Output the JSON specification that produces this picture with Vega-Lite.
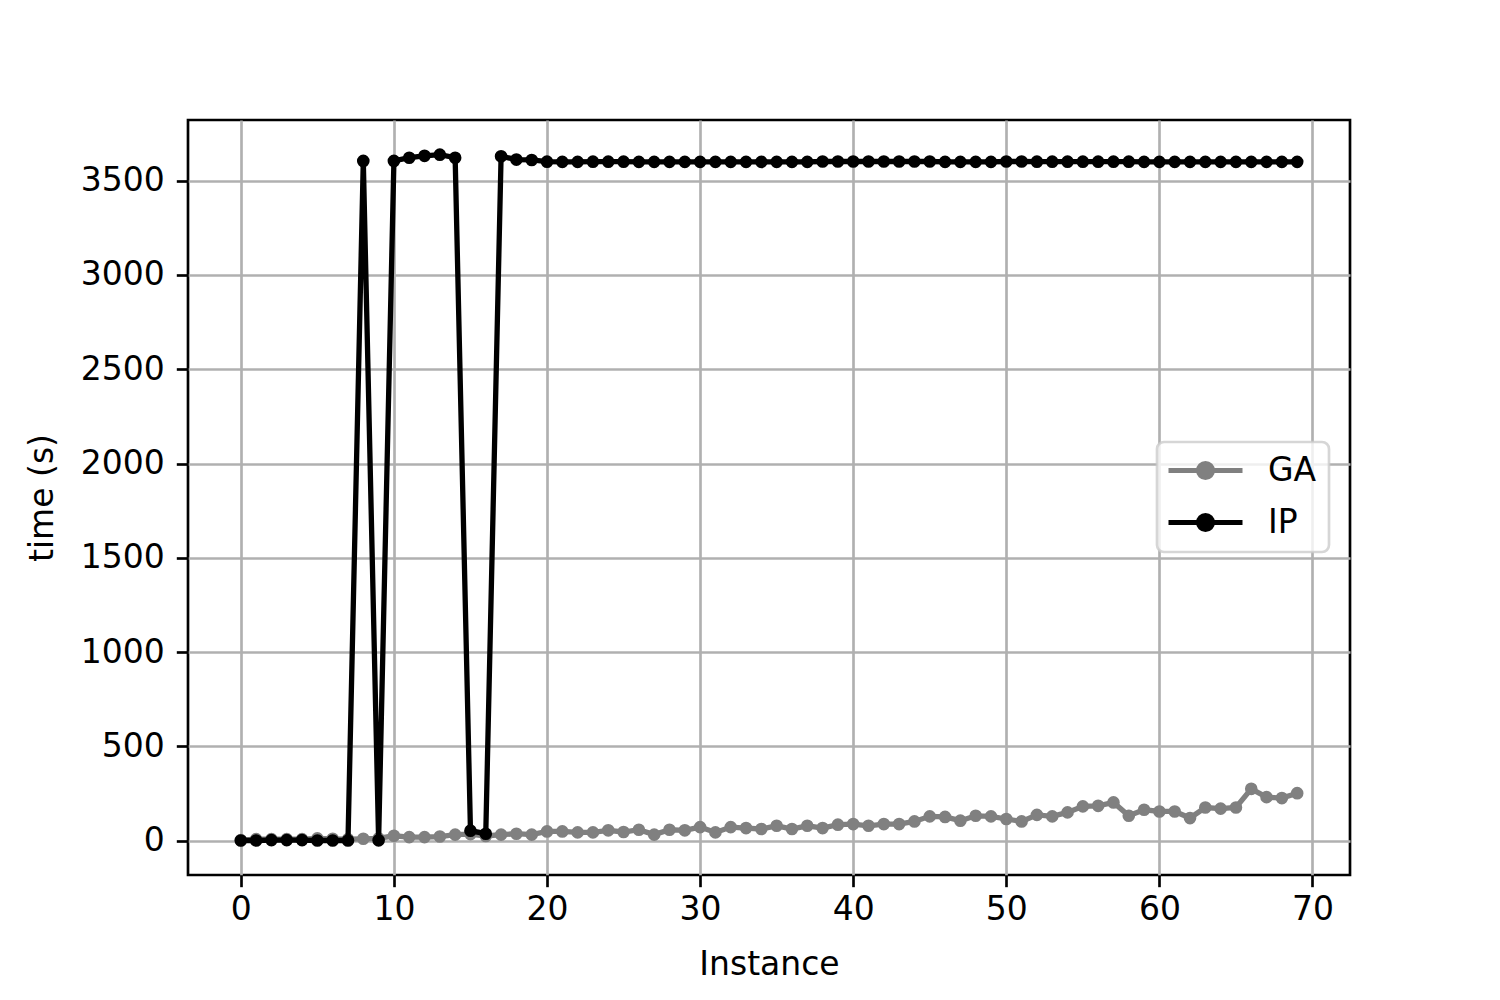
{
  "$schema": "https://vega.github.io/schema/vega-lite/v6.json",
  "width": 1162,
  "height": 755,
  "autosize": "none",
  "padding": {"left": 188, "top": 120, "right": 150, "bottom": 125},
  "background": "white",
  "config": {
    "font": "DejaVu Sans",
    "view": {"stroke": "black", "strokeWidth": 2.67},
    "axis": {
      "labelFont": "DejaVu Sans", "titleFont": "DejaVu Sans",
      "labelFontSize": 33, "titleFontSize": 33, "titleFontWeight": "normal",
      "labelColor": "black", "titleColor": "black",
      "gridColor": "#b0b0b0", "gridWidth": 2.67, "gridOpacity": 1,
      "tickColor": "black", "tickWidth": 2.67, "tickSize": 11.7,
      "domain": false, "format": "d"
    }
  },
  "datasets": {
    "d": [
      {"series": "GA", "instance": 0, "time": 3},
      {"series": "GA", "instance": 1, "time": 8},
      {"series": "GA", "instance": 2, "time": 8},
      {"series": "GA", "instance": 3, "time": 8},
      {"series": "GA", "instance": 4, "time": 8},
      {"series": "GA", "instance": 5, "time": 12},
      {"series": "GA", "instance": 6, "time": 10},
      {"series": "GA", "instance": 7, "time": 8},
      {"series": "GA", "instance": 8, "time": 10},
      {"series": "GA", "instance": 9, "time": 12},
      {"series": "GA", "instance": 10, "time": 26},
      {"series": "GA", "instance": 11, "time": 19},
      {"series": "GA", "instance": 12, "time": 19},
      {"series": "GA", "instance": 13, "time": 22},
      {"series": "GA", "instance": 14, "time": 32},
      {"series": "GA", "instance": 15, "time": 35},
      {"series": "GA", "instance": 16, "time": 25},
      {"series": "GA", "instance": 17, "time": 32},
      {"series": "GA", "instance": 18, "time": 37},
      {"series": "GA", "instance": 19, "time": 32},
      {"series": "GA", "instance": 20, "time": 49},
      {"series": "GA", "instance": 21, "time": 49},
      {"series": "GA", "instance": 22, "time": 44},
      {"series": "GA", "instance": 23, "time": 44},
      {"series": "GA", "instance": 24, "time": 55},
      {"series": "GA", "instance": 25, "time": 46},
      {"series": "GA", "instance": 26, "time": 58},
      {"series": "GA", "instance": 27, "time": 32},
      {"series": "GA", "instance": 28, "time": 58},
      {"series": "GA", "instance": 29, "time": 55},
      {"series": "GA", "instance": 30, "time": 72},
      {"series": "GA", "instance": 31, "time": 44},
      {"series": "GA", "instance": 32, "time": 72},
      {"series": "GA", "instance": 33, "time": 67},
      {"series": "GA", "instance": 34, "time": 62},
      {"series": "GA", "instance": 35, "time": 79},
      {"series": "GA", "instance": 36, "time": 62},
      {"series": "GA", "instance": 37, "time": 79},
      {"series": "GA", "instance": 38, "time": 67},
      {"series": "GA", "instance": 39, "time": 85},
      {"series": "GA", "instance": 40, "time": 88},
      {"series": "GA", "instance": 41, "time": 79},
      {"series": "GA", "instance": 42, "time": 88},
      {"series": "GA", "instance": 43, "time": 88},
      {"series": "GA", "instance": 44, "time": 102},
      {"series": "GA", "instance": 45, "time": 129},
      {"series": "GA", "instance": 46, "time": 126},
      {"series": "GA", "instance": 47, "time": 106},
      {"series": "GA", "instance": 48, "time": 132},
      {"series": "GA", "instance": 49, "time": 129},
      {"series": "GA", "instance": 50, "time": 115},
      {"series": "GA", "instance": 51, "time": 102},
      {"series": "GA", "instance": 52, "time": 137},
      {"series": "GA", "instance": 53, "time": 129},
      {"series": "GA", "instance": 54, "time": 150},
      {"series": "GA", "instance": 55, "time": 182},
      {"series": "GA", "instance": 56, "time": 185},
      {"series": "GA", "instance": 57, "time": 203},
      {"series": "GA", "instance": 58, "time": 132},
      {"series": "GA", "instance": 59, "time": 164},
      {"series": "GA", "instance": 60, "time": 155},
      {"series": "GA", "instance": 61, "time": 155},
      {"series": "GA", "instance": 62, "time": 120},
      {"series": "GA", "instance": 63, "time": 176},
      {"series": "GA", "instance": 64, "time": 170},
      {"series": "GA", "instance": 65, "time": 176},
      {"series": "GA", "instance": 66, "time": 275},
      {"series": "GA", "instance": 67, "time": 231},
      {"series": "GA", "instance": 68, "time": 226},
      {"series": "GA", "instance": 69, "time": 252},
      {"series": "IP", "instance": 0, "time": 1},
      {"series": "IP", "instance": 1, "time": 1},
      {"series": "IP", "instance": 2, "time": 3},
      {"series": "IP", "instance": 3, "time": 3},
      {"series": "IP", "instance": 4, "time": 3},
      {"series": "IP", "instance": 5, "time": 1},
      {"series": "IP", "instance": 6, "time": 1},
      {"series": "IP", "instance": 7, "time": 1},
      {"series": "IP", "instance": 8, "time": 3605},
      {"series": "IP", "instance": 9, "time": 2},
      {"series": "IP", "instance": 10, "time": 3605},
      {"series": "IP", "instance": 11, "time": 3622},
      {"series": "IP", "instance": 12, "time": 3632},
      {"series": "IP", "instance": 13, "time": 3638},
      {"series": "IP", "instance": 14, "time": 3622},
      {"series": "IP", "instance": 15, "time": 53},
      {"series": "IP", "instance": 16, "time": 37},
      {"series": "IP", "instance": 17, "time": 3630},
      {"series": "IP", "instance": 18, "time": 3612},
      {"series": "IP", "instance": 19, "time": 3610},
      {"series": "IP", "instance": 20, "time": 3601},
      {"series": "IP", "instance": 21, "time": 3600},
      {"series": "IP", "instance": 22, "time": 3600},
      {"series": "IP", "instance": 23, "time": 3601},
      {"series": "IP", "instance": 24, "time": 3601},
      {"series": "IP", "instance": 25, "time": 3601},
      {"series": "IP", "instance": 26, "time": 3600},
      {"series": "IP", "instance": 27, "time": 3600},
      {"series": "IP", "instance": 28, "time": 3600},
      {"series": "IP", "instance": 29, "time": 3600},
      {"series": "IP", "instance": 30, "time": 3600},
      {"series": "IP", "instance": 31, "time": 3600},
      {"series": "IP", "instance": 32, "time": 3600},
      {"series": "IP", "instance": 33, "time": 3600},
      {"series": "IP", "instance": 34, "time": 3600},
      {"series": "IP", "instance": 35, "time": 3600},
      {"series": "IP", "instance": 36, "time": 3600},
      {"series": "IP", "instance": 37, "time": 3600},
      {"series": "IP", "instance": 38, "time": 3602},
      {"series": "IP", "instance": 39, "time": 3602},
      {"series": "IP", "instance": 40, "time": 3602},
      {"series": "IP", "instance": 41, "time": 3602},
      {"series": "IP", "instance": 42, "time": 3602},
      {"series": "IP", "instance": 43, "time": 3602},
      {"series": "IP", "instance": 44, "time": 3602},
      {"series": "IP", "instance": 45, "time": 3602},
      {"series": "IP", "instance": 46, "time": 3600},
      {"series": "IP", "instance": 47, "time": 3600},
      {"series": "IP", "instance": 48, "time": 3600},
      {"series": "IP", "instance": 49, "time": 3600},
      {"series": "IP", "instance": 50, "time": 3602},
      {"series": "IP", "instance": 51, "time": 3602},
      {"series": "IP", "instance": 52, "time": 3601},
      {"series": "IP", "instance": 53, "time": 3601},
      {"series": "IP", "instance": 54, "time": 3601},
      {"series": "IP", "instance": 55, "time": 3601},
      {"series": "IP", "instance": 56, "time": 3601},
      {"series": "IP", "instance": 57, "time": 3601},
      {"series": "IP", "instance": 58, "time": 3601},
      {"series": "IP", "instance": 59, "time": 3600},
      {"series": "IP", "instance": 60, "time": 3600},
      {"series": "IP", "instance": 61, "time": 3600},
      {"series": "IP", "instance": 62, "time": 3600},
      {"series": "IP", "instance": 63, "time": 3600},
      {"series": "IP", "instance": 64, "time": 3600},
      {"series": "IP", "instance": 65, "time": 3600},
      {"series": "IP", "instance": 66, "time": 3600},
      {"series": "IP", "instance": 67, "time": 3600},
      {"series": "IP", "instance": 68, "time": 3600},
      {"series": "IP", "instance": 69, "time": 3600}
    ]
  },
  "data": {"name": "d"},
  "encoding": {
    "x": {
      "field": "instance", "type": "quantitative",
      "scale": {"domain": [-3.45, 72.45], "nice": false, "zero": false},
      "axis": {"values": [0, 10, 20, 30, 40, 50, 60, 70], "title": "Instance", "labelPadding": 7, "titlePadding": 22}
    },
    "y": {
      "field": "time", "type": "quantitative",
      "scale": {"domain": [-182, 3822], "nice": false, "zero": false},
      "axis": {"values": [0, 500, 1000, 1500, 2000, 2500, 3000, 3500], "title": "time (s)", "labelPadding": 12, "titlePadding": 21}
    },
    "color": {
      "field": "series", "type": "nominal",
      "scale": {"domain": ["GA", "IP"], "range": ["gray", "black"]},
      "legend": {
        "title": null, "orient": "none", "legendX": 969, "legendY": 322,
        "direction": "vertical",
        "fillColor": "rgba(255,255,255,0.8)", "strokeColor": "rgba(204,204,204,0.8)", "cornerRadius": 7,
        "padding": 12,
        "symbolType": "M-3.7,0L3.7,0M-0.7,0a0.7,0.7 0 1,0 1.4,0a0.7,0.7 0 1,0 -1.4,0",
        "symbolSize": 400, "symbolStrokeWidth": 5, "symbolOffset": 20,
        "labelFont": "DejaVu Sans", "labelFontSize": 33, "labelColor": "black",
        "labelOffset": 46, "rowPadding": 17,
        "encode": {"legend": {"update": {"strokeWidth": {"value": 2.67}}}}
      }
    }
  },
  "layer": [
    {
      "transform": [{"filter": "datum.series === 'GA'"}],
      "mark": {"type": "line", "strokeWidth": 5.3, "point": {"filled": true, "size": 160, "opacity": 1}}
    },
    {
      "transform": [{"filter": "datum.series === 'IP'"}],
      "mark": {"type": "line", "strokeWidth": 5.3, "point": {"filled": true, "size": 160, "opacity": 1}}
    }
  ]
}
